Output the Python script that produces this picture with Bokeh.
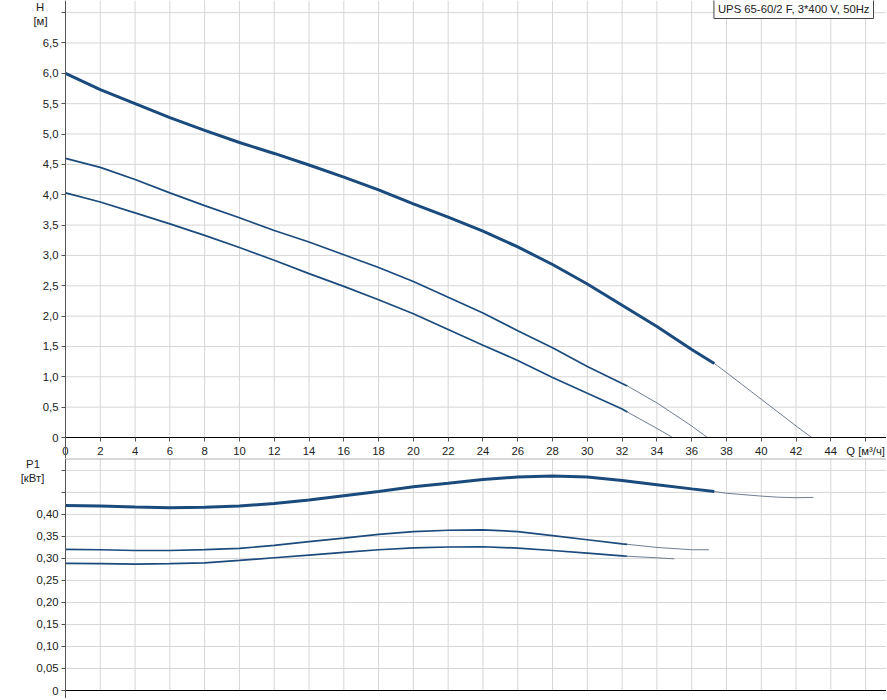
from bokeh.plotting import figure
from bokeh.layouts import column
from bokeh.models import Label, FixedTicker, Range1d, LinearAxis
from bokeh.embed import file_html
from bokeh.resources import INLINE

# ---------------- data ----------------
# H(Q) curves, thick (operating) part and thin extension
q_h1 = [0, 2, 4, 6, 8, 10, 12, 14, 16, 18, 20, 22, 24, 26, 28, 30, 32, 34, 36, 37.3]
h_1 = [6.00, 5.73, 5.50, 5.27, 5.06, 4.86, 4.68, 4.49, 4.29, 4.08, 3.85, 3.63,
       3.40, 3.14, 2.85, 2.53, 2.18, 1.83, 1.45, 1.22]
q_h1_ext = [37.3, 38, 40, 42, 42.9]
h_1_ext = [1.22, 1.07, 0.63, 0.19, 0.0]

q_h2 = [0, 2, 4, 6, 8, 10, 12, 14, 16, 18, 20, 22, 24, 26, 28, 30, 32, 32.3]
h_2 = [4.60, 4.45, 4.25, 4.03, 3.82, 3.62, 3.41, 3.22, 3.01, 2.80, 2.57, 2.31,
       2.05, 1.76, 1.48, 1.17, 0.89, 0.85]
q_h2_ext = [32.3, 34, 36, 36.9]
h_2_ext = [0.85, 0.57, 0.19, 0.0]

q_h3 = [0, 2, 4, 6, 8, 10, 12, 14, 16, 18, 20, 22, 24, 26, 28, 30, 32, 32.3]
h_3 = [4.03, 3.88, 3.70, 3.52, 3.33, 3.13, 2.92, 2.70, 2.49, 2.27, 2.04, 1.78,
       1.52, 1.27, 0.99, 0.73, 0.47, 0.42]
q_h3_ext = [32.3, 34, 34.9]
h_3_ext = [0.42, 0.15, 0.0]

# P1(Q) curves
q_p1 = [0, 2, 4, 6, 8, 10, 12, 14, 16, 18, 20, 22, 24, 26, 28, 30, 32, 34, 36, 37.3]
p_1 = [0.420, 0.419, 0.4166, 0.415, 0.416, 0.419, 0.425, 0.4326, 0.4424, 0.452,
       0.463, 0.471, 0.4795, 0.485, 0.487, 0.485, 0.477, 0.4675, 0.458, 0.452]
q_p1_ext = [37.3, 38, 40, 41, 42, 43]
p_1_ext = [0.452, 0.448, 0.4416, 0.439, 0.438, 0.4386]

q_p2 = [0, 2, 4, 6, 8, 10, 12, 14, 16, 18, 20, 22, 24, 26, 28, 30, 32, 32.3]
p_2 = [0.3205, 0.3197, 0.318, 0.318, 0.320, 0.3227, 0.3295, 0.338, 0.346, 0.3545,
       0.361, 0.364, 0.365, 0.361, 0.352, 0.3424, 0.333, 0.332]
q_p2_ext = [32.3, 34, 36, 37]
p_2_ext = [0.332, 0.325, 0.3197, 0.3197]

q_p3 = [0, 2, 4, 6, 8, 10, 12, 14, 16, 18, 20, 22, 24, 26, 28, 30, 32, 32.3]
p_3 = [0.2886, 0.288, 0.287, 0.288, 0.290, 0.2955, 0.3015, 0.3075, 0.3136, 0.3197,
       0.3242, 0.326, 0.3265, 0.3235, 0.318, 0.312, 0.306, 0.305]
q_p3_ext = [32.3, 34, 35]
p_3_ext = [0.305, 0.3015, 0.299]

x_ticks = list(range(0, 47, 2))
x_labels = {t: str(t) for t in x_ticks}
x_labels[46] = "Q [м³/ч]"

h_ticks = [i * 0.5 for i in range(15)]
h_labels = {t: ("0" if t == 0 else f"{t:.1f}".replace(".", ",")) for t in h_ticks}
h_labels[7.0] = ""

p_ticks = [round(i * 0.05, 2) for i in range(11)]
p_labels = {t: ("0" if t == 0 else f"{t:.2f}".replace(".", ",")) for t in p_ticks}
p_labels[0.45] = ""
p_labels[0.5] = ""

h_title = ["H", "[м]"]
p_title = ["P1", "[кВт]"]
legend_text = "UPS 65-60/2 F, 3*400 V, 50Hz"

# ---------------- style / layout ----------------
FONT = "Liberation Sans"
FS = "11.3px"
BLUE = "#1b4b7c"
THIN = "#5f6f82"
GRID = "#d6d6d6"
TXT = "#222222"

X_MAX = 47.2
H_MAX = 7.2
P_MAX = 0.527
LEFT = 65            # px left of Q = 0
PLOT_W = 821         # px from Q = 0 to the right edge
TOP_PLOT_H = 437     # px from H = 0 to top
TOP_BELOW = 21       # px below H = 0 (x tick labels)
BOT_PLOT_H = 232
BOT_BELOW = 8
PX_X = PLOT_W / X_MAX
X_MIN = -LEFT / PX_X


def sx(px):
    """screen px from the canvas left -> data x"""
    return X_MIN + px / PX_X


def axis_style(ax):
    ax.major_label_text_font = FONT
    ax.major_label_text_font_size = FS
    ax.major_label_text_color = TXT
    ax.major_tick_in = 0
    ax.major_tick_out = 4
    ax.minor_tick_in = 0
    ax.minor_tick_out = 0
    ax.major_tick_line_color = "#555555"
    ax.major_label_standoff = 3


def make_fig(plot_h, below, y_max, ticks, labels):
    y_min = -below * y_max / plot_h
    f = figure(frame_width=LEFT + PLOT_W, frame_height=plot_h + below,
               x_range=Range1d(X_MIN, X_MAX), y_range=Range1d(y_min, y_max),
               x_axis_location=None, y_axis_location=None,
               output_backend="svg", toolbar_location=None,
               min_border_left=0, min_border_right=0, min_border_top=0,
               min_border_bottom=0)
    f.background_fill_color = "white"
    f.border_fill_color = "white"
    f.outline_line_color = None
    f.grid.visible = False
    # grid lines only over the plotting area
    f.segment(x0=0, x1=X_MAX, y0=ticks, y1=ticks, line_color=GRID,
              line_width=1, level="underlay")
    f.segment(x0=x_ticks, x1=x_ticks, y0=0, y1=y_max, line_color=GRID,
              line_width=1, level="underlay")

    ya = LinearAxis(ticker=FixedTicker(ticks=ticks),
                    major_label_overrides=labels, fixed_location=0,
                    axis_line_color="#555555")
    axis_style(ya)
    f.add_layout(ya, "left")
    return f


def title(f, text, x_px, y):
    f.add_layout(Label(x=sx(x_px), y=y, text=text, text_align="center",
                       text_baseline="middle", text_font=FONT,
                       text_font_size=FS, text_color=TXT))


# ---------------- H plot ----------------
p = make_fig(TOP_PLOT_H, TOP_BELOW, H_MAX, h_ticks, h_labels)
xa = LinearAxis(ticker=FixedTicker(ticks=x_ticks), major_label_overrides=x_labels,
                fixed_location=0, bounds=(0, X_MAX), axis_line_color="#000000")
axis_style(xa)
p.add_layout(xa, "below")

p.line(q_h1_ext, h_1_ext, line_color=THIN, line_width=0.9)
p.line(q_h2_ext, h_2_ext, line_color=THIN, line_width=0.9)
p.line(q_h3_ext, h_3_ext, line_color=THIN, line_width=0.9)
p.line(q_h1, h_1, line_color=BLUE, line_width=3)
p.line(q_h2, h_2, line_color=BLUE, line_width=1.7)
p.line(q_h3, h_3, line_color=BLUE, line_width=1.7)

title(p, h_title[0], 39.5, H_MAX - 6 * H_MAX / TOP_PLOT_H)
title(p, h_title[1], 40, H_MAX - 20 * H_MAX / TOP_PLOT_H)

p.add_layout(Label(x=X_MAX, y=H_MAX, x_offset=-13, y_offset=2, text=legend_text,
                   text_align="right", text_baseline="top", text_font=FONT,
                   text_font_size=FS, text_color=TXT,
                   border_line_color="#444444",
                   background_fill_color="white", padding=4))

# ---------------- P1 plot ----------------
q = make_fig(BOT_PLOT_H, BOT_BELOW, P_MAX, p_ticks, p_labels)
q.x_range = p.x_range
# top border and black base line of the power panel
q.segment(x0=0, x1=X_MAX, y0=[P_MAX], y1=[P_MAX], line_color="#b0b0b0",
          line_width=2, level="underlay")
q.segment(x0=0, x1=X_MAX, y0=[0], y1=[0], line_color="#000000",
          line_width=1)

q.line(q_p1_ext, p_1_ext, line_color=THIN, line_width=0.9)
q.line(q_p2_ext, p_2_ext, line_color=THIN, line_width=0.9)
q.line(q_p3_ext, p_3_ext, line_color=THIN, line_width=0.9)
q.line(q_p1, p_1, line_color=BLUE, line_width=3)
q.line(q_p2, p_2, line_color=BLUE, line_width=1.7)
q.line(q_p3, p_3, line_color=BLUE, line_width=1.7)

title(q, p_title[0], 32.5, P_MAX - 5.5 * P_MAX / BOT_PLOT_H)
title(q, p_title[1], 32, P_MAX - 19.5 * P_MAX / BOT_PLOT_H)

layout = column(p, q, spacing=0)
open("out.html", "w").write(file_html(layout, INLINE))
